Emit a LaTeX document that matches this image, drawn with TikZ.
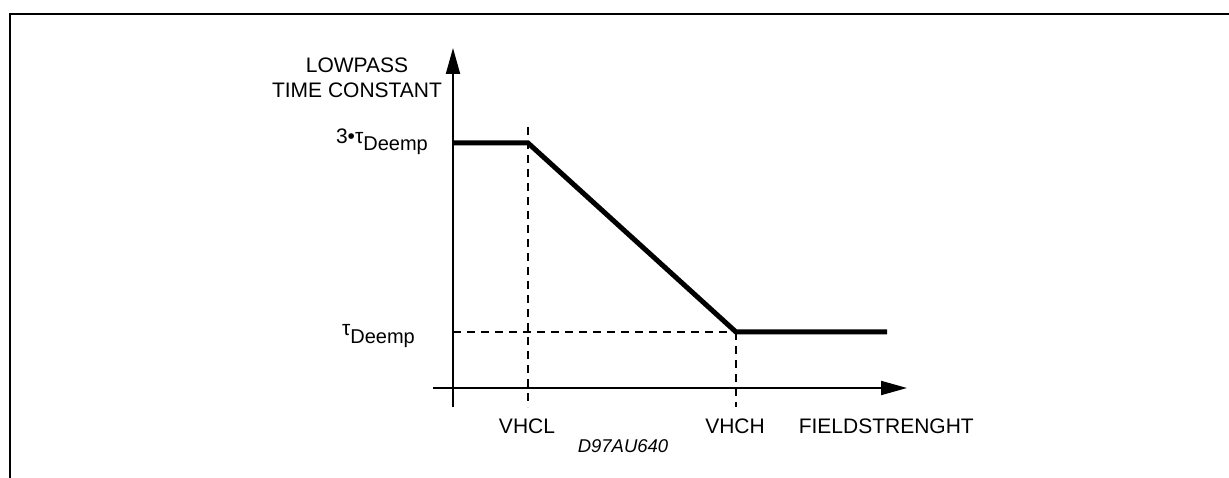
\documentclass[tikz,border=0pt]{standalone}
\usepackage{fontspec}
\setmainfont{Liberation Sans}
\usepackage{tikz}
\usetikzlibrary{arrows.meta}

\tikzset{
    lbl/.style={inner sep=0pt, font=\fontsize{21}{25}\selectfont},
    axis/.style={line width=2pt, -{Triangle[length=26pt,width=14pt]}},
    guide/.style={line width=1.6pt, dash pattern=on 8pt off 6pt},
    curve/.style={line width=5pt}
}

\begin{document}
\begin{tikzpicture}[x=1pt, y=-1pt]
        \useasboundingbox (0, 0) rectangle (1229, 478);
        \coordinate (FL) at (10, 478);
        \coordinate (FC) at (10, 14);
        \coordinate (FR) at (1229, 14);
        \coordinate (O) at (453, 388);
        \coordinate (Ytop) at (453, 48);
        \coordinate (Ybot) at (453, 407);
        \coordinate (Xleft) at (433, 388);
        \coordinate (Xright) at (907, 388);
        \coordinate (A) at (453, 143);
        \coordinate (B) at (528, 143);
        \coordinate (C) at (736, 332);
        \coordinate (D) at (887, 332);
        \coordinate (T) at (453, 332);
        \coordinate (Btop) at (528, 127);
        \coordinate (Bbot) at (528, 407);
        \coordinate (Cbot) at (736, 407);
        \draw[line width=2.4pt] (FL) -- (FC) -- (FR);
        \draw[axis] (Ybot) -- (Ytop);
        \draw[axis] (Xleft) -- (Xright);
        \draw[guide] (Btop) -- (Bbot);
        \draw[guide] (C) -- (Cbot);
        \draw[guide] (T) -- (C);
        \draw[curve] (A) -- (B) -- (C) -- (D);
        \node[lbl, anchor=base] (lowpass) at (357, 73) {LOWPASS};
        \node[lbl, anchor=base] (tconst) at (357, 98) {TIME CONSTANT};
        \node[lbl, anchor=base east] (tmax) at (428, 144) {3•τ\raisebox{-7pt}{\fontsize{20}{24}\selectfont Deemp}};
        \node[lbl, anchor=base east] (tmin) at (415, 336) {τ\raisebox{-7pt}{\fontsize{20}{24}\selectfont Deemp}};
        \node[lbl, anchor=base] (vhcl) at (527, 433) {VHCL};
        \node[lbl, anchor=base] (vhch) at (735, 433) {VHCH};
        \node[lbl, anchor=base east] (field) at (974, 433) {FIELDSTRENGHT};
        \node[inner sep=0pt, anchor=base, font=\fontsize{18.5}{22}\selectfont\itshape] (code) at (623, 452) {D97AU640};
    \end{tikzpicture}
\end{document}
